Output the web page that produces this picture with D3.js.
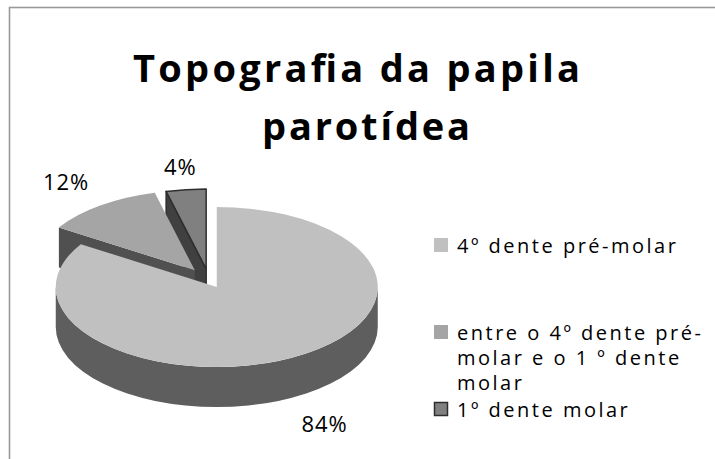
<!DOCTYPE html>
<html>
<head>
<meta charset="utf-8">
<script src="https://cdn.jsdelivr.net/npm/d3@7"></script>
<style>
  body { margin: 0; background: #fff; }
  svg { display: block; }
</style>
</head>
<body>
<svg width="715" height="459"></svg>
<script>
// chart data
var categories = ["4º dente pré-molar", "entre o 4º dente pré-molar e o 1 º  dente molar", "1º dente molar"];
var values = [84, 12, 4];
var percentLabels = ["84%", "12%", "4%"];
// legend text as it wraps in the original
var legendLines = [["4º dente pré-molar"], ["entre o 4º dente pré-", "molar e o 1 º  dente", "molar"], ["1º dente molar"]];
var titleLines = ["Topografia da papila", "parotídea"];

// styles
var topColors = ["#c0c0c0", "#a5a5a5", "#808080"];
var wallColors = ["#5e5e5e", "#505050", "#404040"];
var explode = [0.1, 0.15, 0.14];
var labelFactor = [1.39, 1.36, 1.28];

var svg = d3.select("svg"),
  width = +svg.attr("width"),
  height = +svg.attr("height");

// frame
svg.append("rect")
  .attr("x", 9.5).attr("y", 7.5)
  .attr("width", width + 20).attr("height", height + 20)
  .attr("fill", "none")
  .attr("stroke", "#999")
  .attr("stroke-width", 1.6);

// title
var title = svg.append("g")
  .attr("font-family", "'Open Sans', sans-serif")
  .attr("font-weight", 700)
  .attr("font-size", 38)
  .attr("fill", "#000");
var titlePos = [{x: 133, y: 82, w: 447}, {x: 262, y: 140, w: 208}];
title.selectAll("text")
  .data(titleLines)
  .enter().append("text")
    .attr("x", (d, i) => titlePos[i].x)
    .attr("y", (d, i) => titlePos[i].y)
    .attr("textLength", (d, i) => titlePos[i].w)
    .attr("lengthAdjust", "spacing")
    .text(d => d);

// 3d pie geometry
var cx = 209, cy = 280, rx = 161, ry = 80, depth = 40;

var pie = d3.pie().sort(null).value(d => d).startAngle(0).endAngle(2 * Math.PI);
var arcs = pie(values).map(function(d, i) {
  var mid = (d.startAngle + d.endAngle) / 2;
  d.i = i;
  d.mid = mid;
  d.ox = explode[i] * rx * Math.sin(mid);
  d.oy = -explode[i] * ry * Math.cos(mid);
  return d;
});

function pt(d, a, z) {
  return [cx + d.ox + rx * Math.sin(a), cy + d.oy - ry * Math.cos(a) + z];
}
function vtx(d, z) {
  return [cx + d.ox, cy + d.oy + z];
}

function topPath(d) {
  var p0 = pt(d, d.startAngle, 0), p1 = pt(d, d.endAngle, 0), v = vtx(d, 0);
  var large = d.endAngle - d.startAngle > Math.PI ? 1 : 0;
  return "M" + v + "L" + p0 + "A" + rx + "," + ry + " 0 " + large + " 1 " + p1 + "Z";
}

// outer side, only the front half shows
function wallPath(d) {
  var s = Math.max(d.startAngle, Math.PI / 2), e = Math.min(d.endAngle, 3 * Math.PI / 2);
  if (e <= s) return null;
  return "M" + pt(d, s, 0) + "A" + rx + "," + ry + " 0 0 1 " + pt(d, e, 0) +
    "L" + pt(d, e, depth) + "A" + rx + "," + ry + " 0 0 0 " + pt(d, s, depth) + "Z";
}

function cutPath(d, a) {
  return "M" + vtx(d, 0) + "L" + pt(d, a, 0) + "L" + pt(d, a, depth) + "L" + vtx(d, depth) + "Z";
}

var pieG = svg.append("g");

// back slices first
var order = arcs.slice().sort((a, b) => d3.ascending(a.oy, b.oy));

order.forEach(function(d) {
  var g = pieG.append("g");
  var outline = d.i === 2 ? "#2e2e2e" : "none";
  if (Math.sin(d.startAngle) < -0.01) {
    g.append("path").attr("d", cutPath(d, d.startAngle))
      .attr("fill", wallColors[d.i]).attr("stroke", outline).attr("stroke-width", 1.5)
      .attr("stroke-linejoin", "round");
  }
  if (Math.sin(d.endAngle) > 0.01) {
    g.append("path").attr("d", cutPath(d, d.endAngle))
      .attr("fill", wallColors[d.i]).attr("stroke", outline).attr("stroke-width", 1.5);
  }
  var w = wallPath(d);
  if (w) {
    g.append("path").attr("d", w).attr("fill", wallColors[d.i]);
  }
  g.append("path").attr("d", topPath(d))
    .attr("fill", topColors[d.i]).attr("stroke", outline).attr("stroke-width", 1.5)
    .attr("stroke-linejoin", "round");
});

// percentage labels
svg.append("g")
  .attr("font-family", "'Open Sans', sans-serif")
  .attr("font-size", 22)
  .attr("fill", "#000")
  .attr("text-anchor", "middle")
  .selectAll("text")
  .data(arcs)
  .enter().append("text")
    .attr("x", d => cx + d.ox + labelFactor[d.i] * rx * Math.sin(d.mid))
    .attr("y", d => cy + d.oy - labelFactor[d.i] * ry * Math.cos(d.mid) + (Math.cos(d.mid) < 0 ? depth : 0) + 8)
    .attr("letter-spacing", 1)
    .text((d, i) => percentLabels[i]);

// legend
var legendBase = [253, 340, 417];
var lineGap = 25;
var legend = svg.append("g")
  .attr("font-family", "'Open Sans', sans-serif")
  .attr("font-size", 20)
  .attr("letter-spacing", 2.5)
  .attr("fill", "#000");

var item = legend.selectAll("g")
  .data(categories)
  .enter().append("g");

item.append("rect")
  .attr("x", (d, i) => i === 2 ? 434.5 : 434)
  .attr("y", (d, i) => legendBase[i] - (i === 2 ? 14.5 : 15))
  .attr("width", (d, i) => i === 2 ? 13 : 14)
  .attr("height", (d, i) => i === 2 ? 13 : 14)
  .attr("fill", (d, i) => topColors[i])
  .attr("stroke", (d, i) => i === 2 ? "#2e2e2e" : "none")
  .attr("stroke-width", 1.5);

item.each(function(d, i) {
  d3.select(this).selectAll("text")
    .data(legendLines[i])
    .enter().append("text")
      .attr("x", 457)
      .attr("y", (t, j) => legendBase[i] + j * lineGap)
      .text(t => t);
});
</script>
</body>
</html>
